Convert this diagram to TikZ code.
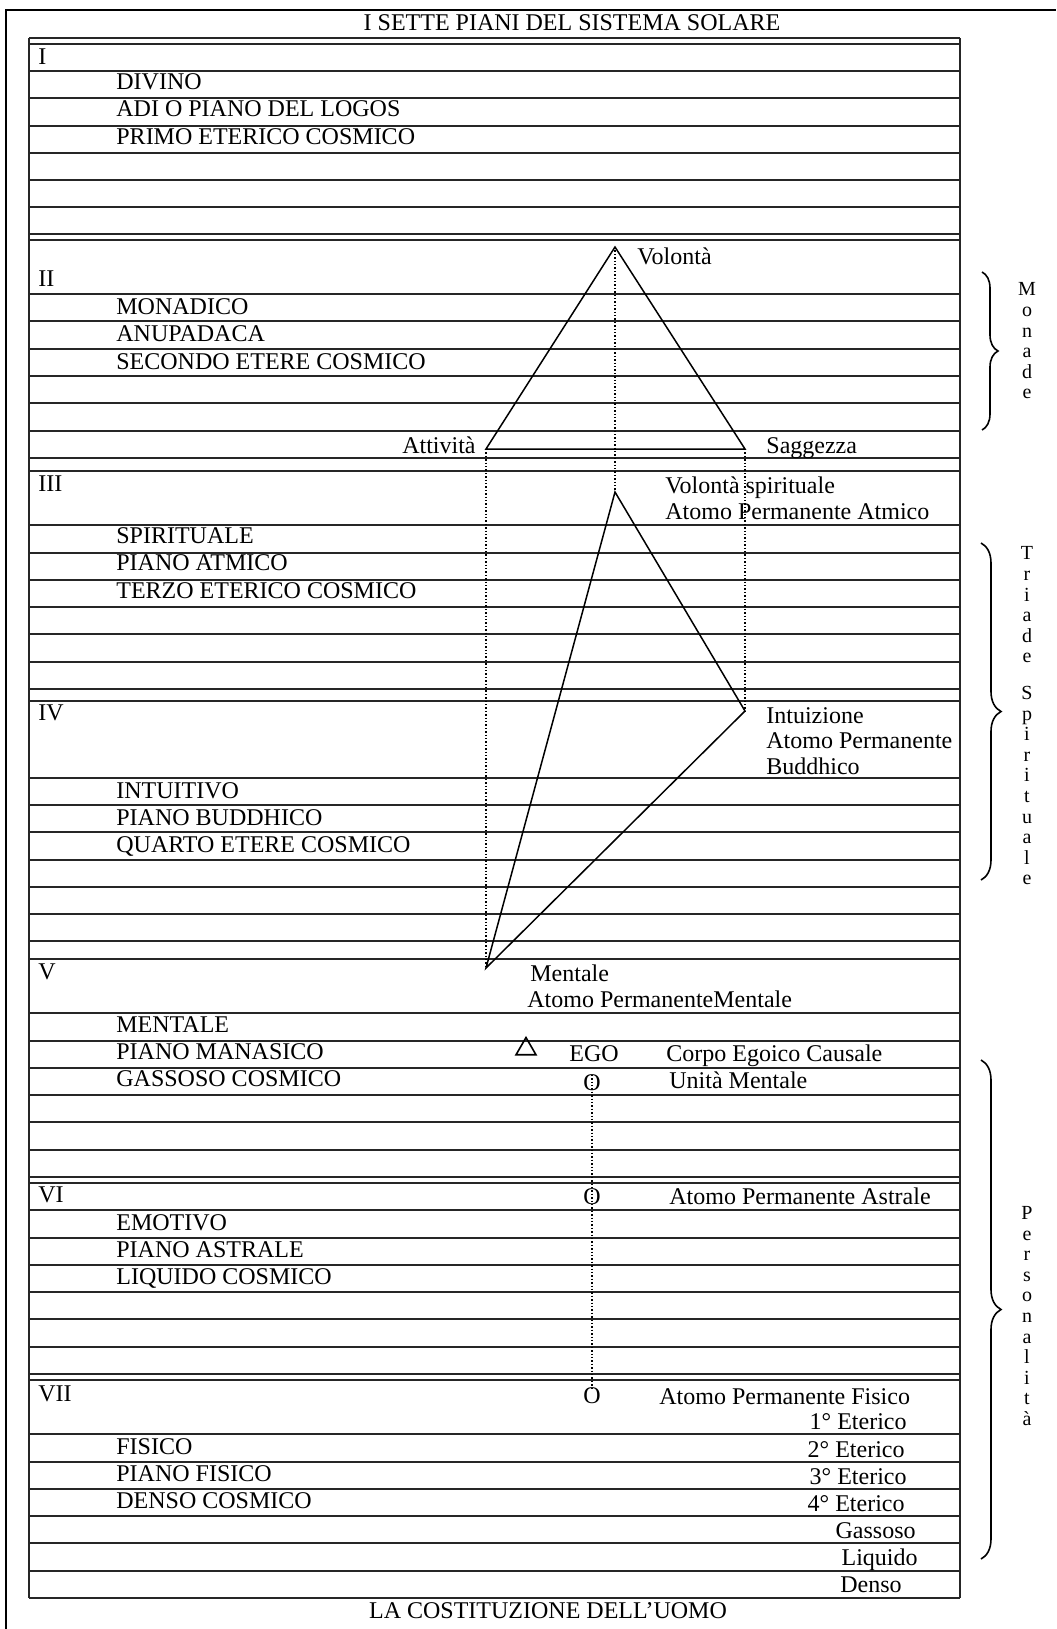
\documentclass[tikz,border=0pt]{standalone}
\usepackage{fontspec}
\setmainfont{Liberation Serif}
\usepackage{tikz}
\usetikzlibrary{decorations.pathreplacing, shapes.geometric}

\begin{document}
\begin{tikzpicture}[x = 0.5pt, y = -0.5pt,
  lbl/.style = {inner sep = 0pt, font = \fontsize{12}{14}\selectfont, text height = 7.9pt, text depth = 0pt},
  pl/.style = {lbl, anchor = west},
  pr/.style = {lbl, anchor = east},
  rule/.style = {line width = 0.9pt, black!85},
  tri/.style = {line width = 0.75pt},
  dots/.style = {line width = 0.7pt, densely dotted},
  curly/.style = {line width = 0.8pt, decorate, decoration = {brace, amplitude = #1}},
  vtext/.style = {inner sep = 0pt, align = center, font = \fontsize{10}{10.3}\selectfont}]
\useasboundingbox (0, 0) rectangle (1056, 1629);

\draw[line width = 0.7pt] (6, 1629) -- (6, 10) -- (1056, 10);

\foreach \y in {38, 44, 71, 98, 126, 153, 180, 207, 234, 240,
                294, 321, 349, 376, 403, 431, 458, 471,
                525, 553, 580, 607, 634, 662, 689, 701,
                778, 805, 832, 860, 887, 914, 941, 959,
                1013, 1041, 1068, 1095, 1122, 1150, 1177, 1183,
                1210, 1238, 1265, 1292, 1319, 1347, 1374, 1380,
                1434, 1462, 1489, 1516, 1543, 1571, 1598}
  \draw[rule] (29, \y) -- (960, \y);
\draw[rule] (29, 38) -- (29, 1598);
\draw[rule] (960, 38) -- (960, 1598);

\node[lbl] at (572, 23) (titolo)    {I SETTE PIANI DEL SISTEMA SOLARE};
\node[lbl] at (548, 1611) (uomo)    {LA COSTITUZIONE DELL’UOMO};

\node[pl] at (38, 57) (p1)          {I};
\node[pl] at (116, 82) (divino)     {DIVINO};
\node[pl] at (116, 109) (adi)       {ADI O PIANO DEL LOGOS};
\node[pl] at (116, 137) (primo)     {PRIMO ETERICO COSMICO};

\node[pl] at (38, 279) (p2)         {II};
\node[pl] at (116, 307) (monadico)  {MONADICO};
\node[pl] at (116, 334) (anupadaca) {ANUPADACA};
\node[pl] at (116, 362) (secondo)   {SECONDO ETERE COSMICO};

\node[pl] at (38, 484) (p3)         {III};
\node[pl] at (116, 536) (spirituale) {SPIRITUALE};
\node[pl] at (116, 563) (atmico)    {PIANO ATMICO};
\node[pl] at (116, 591) (terzo)     {TERZO ETERICO COSMICO};

\node[pl] at (38, 713) (p4)         {IV};
\node[pl] at (116, 791) (intuitivo) {INTUITIVO};
\node[pl] at (116, 818) (buddhico)  {PIANO BUDDHICO};
\node[pl] at (116, 845) (quarto)    {QUARTO ETERE COSMICO};

\node[pl] at (38, 972) (p5)         {V};
\node[pl] at (116, 1025) (mentale)  {MENTALE};
\node[pl] at (116, 1052) (manasico) {PIANO MANASICO};
\node[pl] at (116, 1079) (gassoso)  {GASSOSO COSMICO};

\node[pl] at (38, 1195) (p6)        {VI};
\node[pl] at (116, 1223) (emotivo)  {EMOTIVO};
\node[pl] at (116, 1250) (astrale)  {PIANO ASTRALE};
\node[pl] at (116, 1277) (liquido)  {LIQUIDO COSMICO};

\node[pl] at (38, 1394) (p7)        {VII};
\node[pl] at (116, 1447) (fisico)   {FISICO};
\node[pl] at (116, 1474) (pfisico)  {PIANO FISICO};
\node[pl] at (116, 1501) (denso)    {DENSO COSMICO};

\coordinate (vol) at (615, 247);
\coordinate (att) at (486, 449);
\coordinate (sag) at (745, 449);
\coordinate (volsp) at (615, 492);
\coordinate (intu) at (745, 711);
\coordinate (ment) at (486, 968);

\draw[tri] (vol) -- (att) -- (sag) -- cycle;
\draw[tri] (volsp) -- (intu) -- (ment) -- cycle;
\draw[dots] (vol) -- (volsp);
\draw[dots] (att) -- (ment);
\draw[dots] (sag) -- (intu);

\node[pl] at (637, 257) (lvol)      {Volontà};
\node[pr] at (476, 446) (latt)      {Attività};
\node[pl] at (766, 446) (lsag)      {Saggezza};
\node[pl] at (665, 486) (lvolsp)    {Volontà spirituale};
\node[pl] at (665, 512) (latmico)   {Atomo Permanente Atmico};
\node[pl] at (766, 716) (lintu)     {Intuizione};
\node[pl] at (766, 741) (lapb)      {Atomo Permanente};
\node[pl] at (766, 767) (lbuddhi)   {Buddhico};
\node[pl] at (530, 974) (lment)     {Mentale};
\node[pl] at (527, 1000) (lapm)     {Atomo PermanenteMentale};

\node[draw, regular polygon, regular polygon sides = 3, minimum size = 11.5pt,
      inner sep = 0pt, line width = 0.8pt] at (526, 1049) (causale) {};
\node[lbl] at (594, 1054) (ego)     {EGO};
\node[pl] at (666, 1054) (lcorpo)   {Corpo Egoico Causale};

\node[lbl] at (592, 1083) (ou)      {O};
\node[lbl] at (592, 1197) (oa)      {O};
\node[lbl] at (592, 1396) (of)      {O};
\draw[dots] (ou.north) -- (of.north);
\node[pl] at (669, 1081) (lunita)   {Unità Mentale};
\node[pl] at (669, 1197) (lastr)    {Atomo Permanente Astrale};
\node[pl] at (659, 1397) (lfis)     {Atomo Permanente Fisico};

\node[pr] at (907, 1422) (et1)      {1° Eterico};
\node[pr] at (905, 1450) (et2)      {2° Eterico};
\node[pr] at (907, 1477) (et3)      {3° Eterico};
\node[pr] at (905, 1504) (et4)      {4° Eterico};
\node[pr] at (916, 1531) (gas)      {Gassoso};
\node[pr] at (918, 1558) (liq)      {Liquido};
\node[pr] at (902, 1585) (den)      {Denso};

\draw[curly = 8pt] (982, 272) -- (982, 430);
\draw[curly = 10pt] (981, 543) -- (981, 880);
\draw[curly = 10pt] (981, 1060) -- (981, 1559);

\node[vtext] at (1027, 341) (monade)  {M\\o\\n\\a\\d\\e};
\node[vtext] at (1027, 716) (triade)  {T\\r\\i\\a\\d\\e\\[8pt]S\\p\\i\\r\\i\\t\\u\\a\\l\\e};
\node[vtext] at (1027, 1316) (person) {P\\e\\r\\s\\o\\n\\a\\l\\i\\t\\à};

\end{tikzpicture}
\end{document}
